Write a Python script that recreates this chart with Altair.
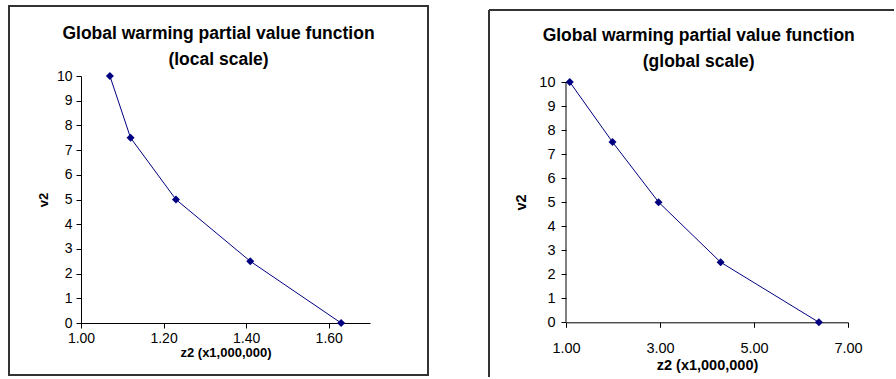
import altair as alt
import pandas as pd

# ---- data ----
v2_values = [10, 7.5, 5, 2.5, 0]
z2_local = [1.07, 1.12, 1.23, 1.41, 1.63]
z2_global = [1.08, 1.99, 2.97, 4.29, 6.38]
v2_ticks = list(range(0, 11))
v2_axis_ends = [0, 10]
local_x_domain = [1.0, 1.7]
local_x_ticks = [1.0, 1.2, 1.4, 1.6]
global_x_domain = [1.0, 7.0]
global_x_ticks = [1.0, 3.0, 5.0, 7.0]
local_y_domain = [0, 10]
global_y_domain = [0, 10.25]
title_main = "Global warming partial value function"
title_local = "(local scale)"
title_global = "(global scale)"
x_title = "z2 (x1,000,000)"
y_title = "v2"

FONT = "Liberation Sans"
NAVY = "#000080"
BORDER = "#333333"

one = pd.DataFrame({"k": [0]})


def panel(z, x_domain, x_ticks, y_domain, sub, W, H, title_x, title_y, tick_fs, ax_fs,
          x_lab_pad, x_title_y, y_lab_pad, y_title_x, y_title_y, draw_y_domain, extra_layers):
    df = pd.DataFrame({"z2": z, "v2": v2_values})
    x = alt.X(
        "z2:Q",
        scale=alt.Scale(domain=x_domain, nice=False, zero=False),
        axis=alt.Axis(
            values=x_ticks, format=".2f", title=x_title, grid=False,
            labelFont=FONT, labelFontSize=tick_fs, labelColor="black",
            labelPadding=x_lab_pad, labelFlush=False, labelOverlap=False,
            tickSize=5, tickColor="black", domainColor="black",
            titleFont=FONT, titleFontSize=ax_fs, titleFontWeight="bold",
            titleColor="black", titleY=x_title_y, titleX=W / 2,
            titleAlign="center", titleBaseline="alphabetic",
        ),
    )
    y_scale = alt.Scale(domain=y_domain, nice=False, zero=False)
    y_axis = alt.Axis(
        values=v2_ticks, format="d", title=y_title, grid=False,
        domain=draw_y_domain,
        labelFont=FONT, labelFontSize=tick_fs, labelColor="black",
        labelPadding=y_lab_pad, labelFlush=False, labelOverlap=False,
        tickSize=5, tickColor="black", domainColor="black",
        titleFont=FONT, titleFontSize=ax_fs, titleFontWeight="bold",
        titleColor="black", titleX=y_title_x, titleY=y_title_y,
        titleAngle=270, titleAlign="center", titleBaseline="middle",
    )
    y = alt.Y("v2:Q", scale=y_scale, axis=y_axis)
    base = alt.Chart(df).encode(x=x, y=y)
    line = base.mark_line(color=NAVY, strokeWidth=1)
    pts = base.mark_point(shape="diamond", filled=True, size=64, color=NAVY, opacity=1)
    title = alt.Chart(one).mark_text(
        text=[title_main, sub], font=FONT, fontSize=17.5, fontWeight="bold",
        color="black", align="center", baseline="top", lineHeight=26,
    ).encode(x=alt.value(title_x), y=alt.value(title_y))
    layers = [line, pts]
    if not draw_y_domain:
        axis_rule = alt.Chart(one).mark_rule(color="black", strokeWidth=1).encode(
            x=alt.value(0),
            y=alt.YDatum(v2_axis_ends[0], type="quantitative", scale=y_scale, axis=y_axis),
            y2=alt.datum(v2_axis_ends[1]),
        )
        layers = layers + [axis_rule]
    return alt.layer(*extra_layers, title, *layers).properties(width=W, height=H)


left_border = alt.Chart(one).mark_rect(filled=False, stroke=BORDER, strokeWidth=2).encode(
    x=alt.value(-72), x2=alt.value(347), y=alt.value(-70), y2=alt.value(299)
)

right_left_edge = alt.Chart(one).mark_rule(color=BORDER, strokeWidth=2).encode(
    x=alt.value(-77), y=alt.value(-66), y2=alt.value(301)
)
right_top_edge = alt.Chart(one).mark_rule(color=BORDER, strokeWidth=2).encode(
    x=alt.value(-77), x2=alt.value(328), y=alt.value(-66)
)

left = panel(z2_local, local_x_domain, local_x_ticks, local_y_domain, title_local,
             289, 247, 137.5, -51.5, 14, 13, 3, 33, 4, -38, 123.5, True, [left_border])
right = panel(z2_global, global_x_domain, global_x_ticks, global_y_domain, title_global,
              282, 246.3, 132.7, -49, 14.5, 14.5, 14, 47, 6, -45, 126, False,
              [right_left_edge, right_top_edge])

chart = alt.hconcat(left, right, spacing=59).properties(
    padding={"left": 8, "top": 5, "right": 0, "bottom": 0},
    background="white",
).configure_view(stroke="transparent", strokeWidth=0)

chart.save("out.html", embed_options={"renderer": "svg", "actions": False})
